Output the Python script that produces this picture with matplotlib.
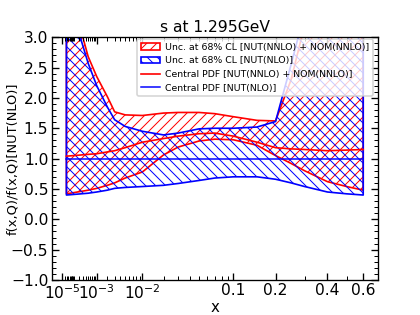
import numpy as np
import matplotlib
matplotlib.use("Agg")
import matplotlib.pyplot as plt
from matplotlib.ticker import FixedLocator, FixedFormatter

# x grid and ratio values
x = [2.7e-5, 1e-4, 2.5e-4, 5e-4, 1e-3, 2e-3, 3e-3, 5e-3, 1e-2, 2e-2, 3e-2,
     5e-2, 7e-2, 0.1, 0.15, 0.2, 0.25, 0.3, 0.4, 0.5, 0.6]

nnlo_hi = [5.2, 4.0, 3.1, 2.68, 2.35, 2.02, 1.77, 1.72, 1.71, 1.75, 1.76,
           1.76, 1.74, 1.69, 1.63, 1.62, 2.3, 3.2, 5.0, 5.0, 5.0]
nnlo_lo = [0.42, 0.44, 0.46, 0.48, 0.51, 0.56, 0.60, 0.68, 0.78, 1.06, 1.19,
           1.29, 1.32, 1.31, 1.22, 1.05, 0.92, 0.80, 0.62, 0.54, 0.48]
nnlo_c = [1.04, 1.05, 1.06, 1.07, 1.08, 1.11, 1.13, 1.18, 1.27, 1.33, 1.37,
          1.41, 1.42, 1.37, 1.27, 1.18, 1.16, 1.15, 1.13, 1.14, 1.15]

nlo_hi = [5.0, 3.8, 2.95, 2.57, 2.2, 1.85, 1.64, 1.53, 1.45, 1.39, 1.42,
          1.49, 1.50, 1.50, 1.52, 1.61, 2.55, 3.4, 5.0, 5.0, 5.0]
nlo_lo = [0.40, 0.41, 0.42, 0.43, 0.45, 0.48, 0.51, 0.525, 0.54, 0.56, 0.59,
          0.64, 0.68, 0.70, 0.70, 0.66, 0.60, 0.54, 0.45, 0.42, 0.40]
nlo_c = [1.0] * len(x)

major_ticks = [1e-5, 1e-3, 1e-2, 0.1, 0.2, 0.4, 0.6]
major_labels = [r"$10^{-5}$", r"$10^{-3}$", r"$10^{-2}$", "0.1", "0.2", "0.4", "0.6"]
minor_ticks = ([k * 1e-5 for k in range(2, 10)] + [k * 1e-4 for k in range(1, 10)]
               + [k * 1e-3 for k in range(2, 10)] + [k * 1e-2 for k in range(2, 10)]
               + [0.3, 0.5])

plt.rcParams["hatch.linewidth"] = 0.6

fig = plt.figure(figsize=(3.5, 2.625), dpi=120)
ax = fig.add_axes([0.123, 0.111, 0.777, 0.771])

p = 0.3
ax.set_xscale("function", functions=(lambda v: np.power(np.clip(v, 0, None), p),
                                     lambda v: np.power(np.clip(v, 0, None), 1 / p)))

h1 = ax.fill_between(x, nnlo_lo, nnlo_hi, facecolor="none", edgecolor="red",
                     hatch="////", linewidth=1.0,
                     label="Unc. at 68% CL [NUT(NNLO) + NOM(NNLO)]")
h2 = ax.fill_between(x, nlo_lo, nlo_hi, facecolor="none", edgecolor="blue",
                     hatch="\\\\\\\\", linewidth=1.0,
                     label="Unc. at 68% CL [NUT(NLO)]")
l1, = ax.plot(x, nnlo_c, color="red", lw=1.0,
              label="Central PDF [NUT(NNLO) + NOM(NNLO)]")
l2, = ax.plot(x, nlo_c, color="blue", lw=0.9, label="Central PDF [NUT(NLO)]")

ax.set_xlim(1e-9, 0.7)
ax.set_ylim(-1.0, 3.0)

ax.xaxis.set_major_locator(FixedLocator(major_ticks))
ax.xaxis.set_major_formatter(FixedFormatter(major_labels))
ax.xaxis.set_minor_locator(FixedLocator(minor_ticks))
ax.set_yticks(np.arange(-1.0, 3.01, 0.5))
ax.set_yticks(np.arange(-1.0, 3.01, 0.1), minor=True)
ax.tick_params(which="both", direction="in", top=True, right=True, labelsize=9.3, pad=2)
ax.tick_params(which="major", length=4, width=0.8)
ax.tick_params(which="minor", length=2.3, width=0.6)

ax.set_title("s at 1.295GeV", fontsize=9.3, pad=3)
ax.set_xlabel("x", fontsize=9, labelpad=-1)
ax.set_ylabel("f(x,Q)/f(x,Q)[NUT(NLO)]", fontsize=7.8)
ax.yaxis.set_label_coords(-0.1, 0.5)

ax.legend(handles=[h1, h2, l1, l2], loc="upper right", fontsize=5.6,
          framealpha=0.8, bbox_to_anchor=(0.985, 0.993), borderaxespad=0.0,
          handlelength=2.0, handletextpad=0.6)

fig.savefig("out.png", dpi=120)
